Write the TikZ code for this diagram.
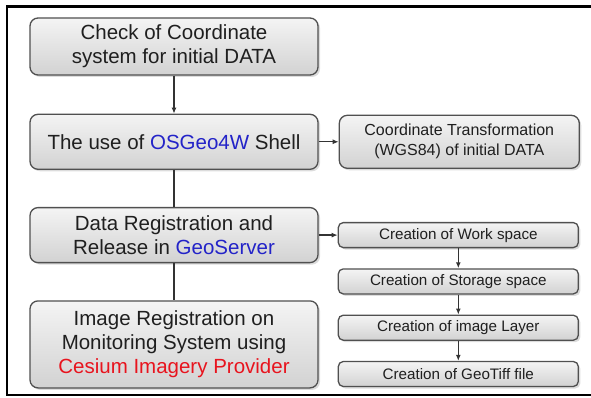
\documentclass[tikz,border=0pt]{standalone}
\usepackage{fontspec}
\setmainfont{Liberation Sans}
\usetikzlibrary{shapes, arrows.meta, positioning, shadows}
\definecolor{boxtop}{HTML}{F4F4F4}
\definecolor{boxbot}{HTML}{D2D2D2}
\definecolor{boxline}{HTML}{505050}
\definecolor{osblue}{HTML}{2323C8}
\definecolor{csred}{HTML}{E8141E}
\tikzstyle{block}=[draw=boxline,line width=1.3pt,rectangle,rounded corners=8pt,top color=boxtop,bottom color=boxbot,drop shadow={shadow xshift=2pt,shadow yshift=-2pt,fill=gray!55},align=center,text=black!88]
\tikzstyle{mainblock}=[block,minimum width=288pt,minimum height=55pt,font=\fontsize{20.5}{24}\selectfont]
\tikzstyle{sideblock}=[block,minimum width=240pt,font=\fontsize{16}{20}\selectfont]
\tikzstyle{stepblock}=[block,rounded corners=5pt,minimum width=240pt,minimum height=25pt,font=\fontsize{15.2}{18}\selectfont]
\tikzstyle{link}=[draw=black!80,line width=1.4pt]

\begin{document}
\begin{tikzpicture}[x=1pt,y=-1pt,>={Latex[length=6pt,width=5pt]}]
  \useasboundingbox (0,0) rectangle (591,398);
  \draw[line width=2.5pt] (591,6.5) -- (7,6.5) -- (7,395) -- (591,395);
  % main column
  \node[mainblock, minimum height=57pt] (check) at (174,46.5) {Check of Coordinate\\system for initial DATA};
  \node[mainblock, below=38pt of check] (shell) {The use of \textcolor{osblue}{OSGeo4W} Shell};
  \node[mainblock, below=37pt of shell] (geoserver) {Data Registration and\\Release in \textcolor{osblue}{GeoServer}};
  \node[mainblock, minimum height=87pt, below=37pt of geoserver] (cesium) {Image Registration on\\Monitoring System using\\\textcolor{csred}{Cesium Imagery Provider}};
  % right column
  \node[sideblock, minimum height=53pt, right=20pt of shell] (transform) {Coordinate Transformation\\(WGS84) of initial DATA};
  \node[stepblock, right=19pt of geoserver] (work) {Creation of Work space};
  \node[stepblock, below=20pt of work] (storage) {Creation of Storage space};
  \node[stepblock, below=20pt of storage] (layer) {Creation of image Layer};
  \node[stepblock, below=20pt of layer] (geotiff) {Creation of GeoTiff file};
  \draw[link,->] (check) -- (shell);
  \draw[link] (shell) -- (geoserver);
  \draw[link] (geoserver) -- (cesium);
  \draw[link,->] (shell) -- (transform);
  \draw[link,->] (geoserver) -- (work);
  \draw[link,->] (work) -- (storage);
  \draw[link,->] (storage) -- (layer);
  \draw[link,->] (layer) -- (geotiff);
\end{tikzpicture}
\end{document}
